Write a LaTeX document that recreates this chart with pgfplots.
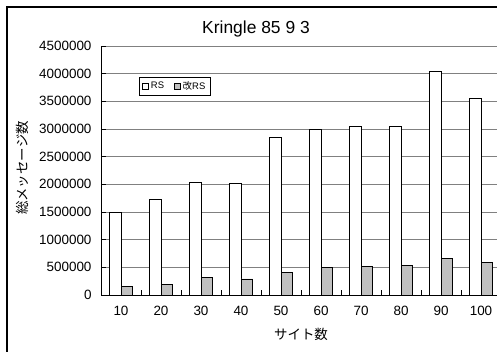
\documentclass[border=0pt]{standalone}
\usepackage{fontspec}
\setmainfont{Liberation Sans}
\newfontfamily\jp{Noto Sans CJK JP}
\usepackage{pgfplots}
\pgfplotsset{compat=1.18}
\definecolor{kaifill}{HTML}{C0C0C0}
\begin{document}
\begin{tikzpicture}
\useasboundingbox (0,0) rectangle (497bp,352bp);
\clip (0,0) rectangle (497bp,352bp);
\fill[white] (0,0) rectangle (497bp,352bp);
\draw[line width=1.5bp] (7bp,345bp) rectangle (510bp,-10bp);
\node[anchor=base, font=\fontsize{17.5}{20}\selectfont, inner sep=0pt] at (256bp,318.7bp) {Kringle 85 9 3};
\begin{axis}[
  at={(101bp,57bp)}, anchor=south west,
  scale only axis, width=400bp, height=249bp,
  ybar=0pt, bar width=2.875,
  xmin=5, xmax=105, ymin=0, ymax=4500000,
  axis x line*=bottom, axis y line*=left,
  axis line style={-, black, line width=0.8bp},
  xtick={15,25,...,95}, xticklabels={,,,,,,,,,},
  extra x ticks={10,20,30,40,50,60,70,80,90,100},
  extra x tick labels={10,20,30,40,50,60,70,80,90,100},
  extra x tick style={major tick length=0pt, grid=none},
  ytick={0,500000,...,4500000},
  ymajorgrids, grid style={gray, line width=0.8bp},
  tick align=inside, major tick length=5bp,
  tick style={black, line width=0.8bp},
  scaled y ticks=false,
  /pgf/number format/assume math mode=true,
  yticklabel style={/pgf/number format/fixed, /pgf/number format/precision=0, /pgf/number format/1000 sep={}, xshift=-6bp},
  tick label style={font=\fontsize{13.5}{16}\selectfont},
  xticklabel style={yshift=-8bp},
  xlabel={\jp サイト数}, ylabel={\jp 総メッセージ数},
  label style={font=\fontsize{13.5}{15}\selectfont},
  xlabel style={at={(axis description cs:0.5,-0.16)}, anchor=center},
  ylabel style={at={(axis description cs:-0.197,0.51)}, anchor=center},
  legend image code/.code={\draw[#1, line width=0.6bp] (0bp,-3bp) rectangle (6bp,3bp);},
  legend style={at={(rel axis cs:0.095,0.875)}, anchor=north west, draw=black, line width=0.8bp,
    font=\fontsize{9.5}{11}\selectfont, legend columns=2,
    /tikz/every even column/.append style={column sep=8bp}},
]
\addplot[fill=white, draw=black, line width=0.8bp] coordinates {
(10,1500000) (20,1730000) (30,2030000) (40,2020000) (50,2840000)
(60,2990000) (70,3050000) (80,3045000) (90,4040000) (100,3550000)};
\addplot[fill=kaifill, draw=black, line width=0.8bp] coordinates {
(10,155000) (20,190000) (30,310000) (40,290000) (50,410000)
(60,505000) (70,520000) (80,530000) (90,655000) (100,590000)};
\legend{RS,{\jp 改}RS}
\end{axis}
\end{tikzpicture}
\end{document}
